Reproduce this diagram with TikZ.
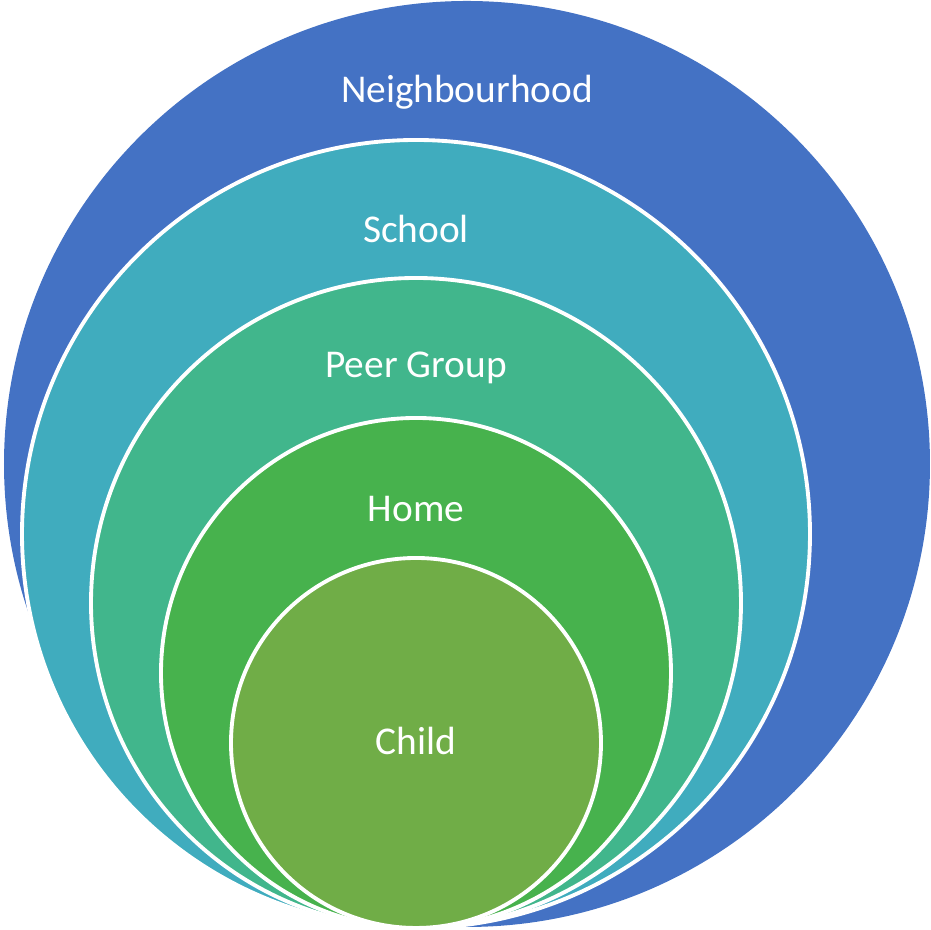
\documentclass[tikz,border=0pt]{standalone}
\usepackage{fontspec}
\setmainfont{Carlito}
\definecolor{nbhblue}{HTML}{4472C4}
\definecolor{schoolteal}{HTML}{40ACBE}
\definecolor{peergreen}{HTML}{41B68C}
\definecolor{homegreen}{HTML}{47B24D}
\definecolor{childgreen}{HTML}{70AD47}
\begin{document}
\begin{tikzpicture}[
        scale=1,
        font=\fontsize{11.2}{13}\selectfont
    ]
    \tikzset{
        ring/.style = {circle, draw=white, line width=1.1pt, inner sep=0pt},
        ringlabel/.style = {text=white, inner sep=0pt},
    }
    \useasboundingbox (0,0) rectangle (9.31,9.30);
    \node[circle, fill=nbhblue, inner sep=0pt, minimum size=9.26cm] at (4.67,4.66) (nbh) {};
    \node[ring, fill=schoolteal, minimum size=7.88cm] at (4.16,3.96) (school) {};
    \node[ring, fill=peergreen, minimum size=6.50cm] at (4.16,3.27) (peer) {};
    \node[ring, fill=homegreen, minimum size=5.10cm] at (4.16,2.57) (home) {};
    \node[ring, fill=childgreen, minimum size=3.70cm] at (4.16,1.87) (child) {};
    %
    \node[ringlabel] at (4.67,8.38) (nbhlabel) {Neighbourhood};
    \node[ringlabel] at (4.16,7.01) (schoollabel) {School};
    \node[ringlabel] at (4.16,5.62) (peerlabel) {Peer Group};
    \node[ringlabel] at (4.16,4.21) (homelabel) {Home};
    \node[ringlabel] at (4.16,1.89) (childlabel) {Child};
\end{tikzpicture}
\end{document}
